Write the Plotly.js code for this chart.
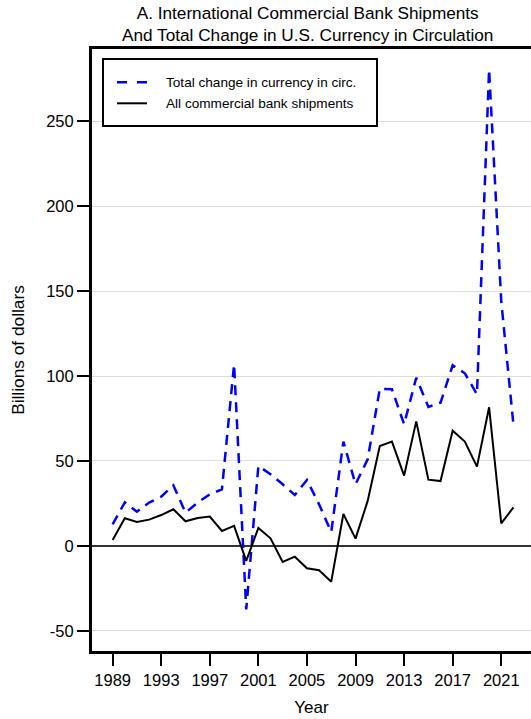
<!DOCTYPE html>
<html>
<head>
<meta charset="utf-8">
<script src="https://cdn.plot.ly/plotly-3.0.1.min.js"></script>
<style>html,body{margin:0;padding:0;overflow:hidden;background:#fff}</style>
</head>
<body>
<div id="chart" style="width:531px;height:719px"></div>
<script>
const years = [1989,1990,1991,1992,1993,1994,1995,1996,1997,1998,1999,2000,2001,2002,2003,2004,2005,2006,2007,2008,2009,2010,2011,2012,2013,2014,2015,2016,2017,2018,2019,2020,2021,2022];
const totalChangeCurrency = [12.7,25.7,20.2,25.5,29.0,35.7,19.6,25.5,30.4,33.3,106.9,-37.3,47.1,42.2,36.3,30.0,38.8,24.5,8.2,61.4,36.3,51.0,92.5,92.2,71.6,99.0,81.8,84.3,106.3,101.6,89.2,280.4,144.0,71.6];
const bankShipments = [3.5,16.3,14.1,15.5,18.2,21.6,14.5,16.5,17.3,8.8,11.8,-8.8,10.6,4.5,-9.4,-6.3,-13.1,-14.3,-21.0,18.8,4.3,26.5,58.8,61.4,41.4,73.3,39.0,38.2,67.8,61.4,46.7,81.6,13.3,22.7];
const seriesNames = ["Total change in currency in circ.", "All commercial bank shipments"];
const yTickVals = [-50, 0, 50, 100, 150, 200, 250];
const yTickText = ["-50", "0", "50", "100", "150", "200", "250"];
const titleText = "A. International Commercial Bank Shipments<br>And Total Change in U.S. Currency in Circulation";

const FONT = "Liberation Sans, Arial, sans-serif";
const BLUE = "#0000ff";
const BLACK = "#000000";

const traces = [
  {x: years, y: totalChangeCurrency, name: seriesNames[0], type: "scatter", mode: "lines",
   line: {color: BLUE, width: 2.5, dash: "10px,7px"}},
  {x: years, y: bankShipments, name: seriesNames[1], type: "scatter", mode: "lines",
   line: {color: BLACK, width: 2}}
];

// Plot area geometry (pixels) used to place the hand-drawn legend box
const M = {l: 92, r: 0, t: 49, b: 68};
const W = 531, H = 719;
const pw = W - M.l - M.r, ph = H - M.t - M.b;
const px = v => (v - M.l) / pw;          // page x -> paper x
const py = v => (H - M.b - v) / ph;      // page y -> paper y

const legendBox = {x0: 103, x1: 377, y0: 59, y1: 126};
const legendRows = [82.3, 103.3];
const sampleX = [117, 147];
const textX = 164;

const shapes = [
  {type: "rect", xref: "paper", yref: "paper",
   x0: px(legendBox.x0), x1: px(legendBox.x1), y0: py(legendBox.y1), y1: py(legendBox.y0),
   line: {color: BLACK, width: 2}, fillcolor: "#fff", layer: "above"},
  {type: "line", xref: "paper", yref: "paper",
   x0: px(sampleX[0]), x1: px(sampleX[1]), y0: py(legendRows[0]), y1: py(legendRows[0]),
   line: {color: BLUE, width: 2.5, dash: "10px,10px"}, layer: "above"},
  {type: "line", xref: "paper", yref: "paper",
   x0: px(sampleX[0]), x1: px(sampleX[1]), y0: py(legendRows[1]), y1: py(legendRows[1]),
   line: {color: BLACK, width: 2}, layer: "above"}
];

const annotations = seriesNames.map((n, i) => ({
  xref: "paper", yref: "paper", x: px(textX), y: py(legendRows[i]),
  xanchor: "left", yanchor: "middle", showarrow: false, text: n,
  font: {family: FONT, size: 13.6, color: BLACK}
}));

const layout = {
  width: W, height: H,
  margin: {l: M.l, r: M.r, t: M.t, b: M.b, pad: 0},
  paper_bgcolor: "#fff", plot_bgcolor: "#fff",
  font: {family: FONT, color: "#000", size: 16},
  title: {text: titleText, x: 0.5795, xanchor: "center", y: 0.9738, yanchor: "middle",
          font: {family: FONT, size: 17.2, color: "#000"}},
  showlegend: false,
  shapes: shapes,
  annotations: annotations,
  xaxis: {range: [1987.3, 2023.45], tickmode: "linear", tick0: 1989, dtick: 4,
          ticks: "outside", ticklen: 12, tickwidth: 2, tickcolor: "#000",
          showline: true, linecolor: "#000", linewidth: 3, mirror: true,
          showgrid: false, zeroline: false,
          tickfont: {family: FONT, size: 16.5},
          title: {text: "Year", font: {family: FONT, size: 17}, standoff: 14}},
  yaxis: {range: [-61.8, 292.4], tickmode: "array", tickvals: yTickVals, ticktext: yTickText,
          ticks: "outside", ticklen: 12, tickwidth: 2, tickcolor: "#000",
          showline: true, linecolor: "#000", linewidth: 3, mirror: false,
          showgrid: true, gridcolor: "#dddddd", gridwidth: 1,
          zeroline: true, zerolinecolor: "#333", zerolinewidth: 1.5,
          tickfont: {family: FONT, size: 16.5},
          title: {text: "Billions of dollars", font: {family: FONT, size: 17.3}, standoff: 18}}
};

Plotly.newPlot("chart", traces, layout, {staticPlot: true, displayModeBar: false});
</script>
</body>
</html>
